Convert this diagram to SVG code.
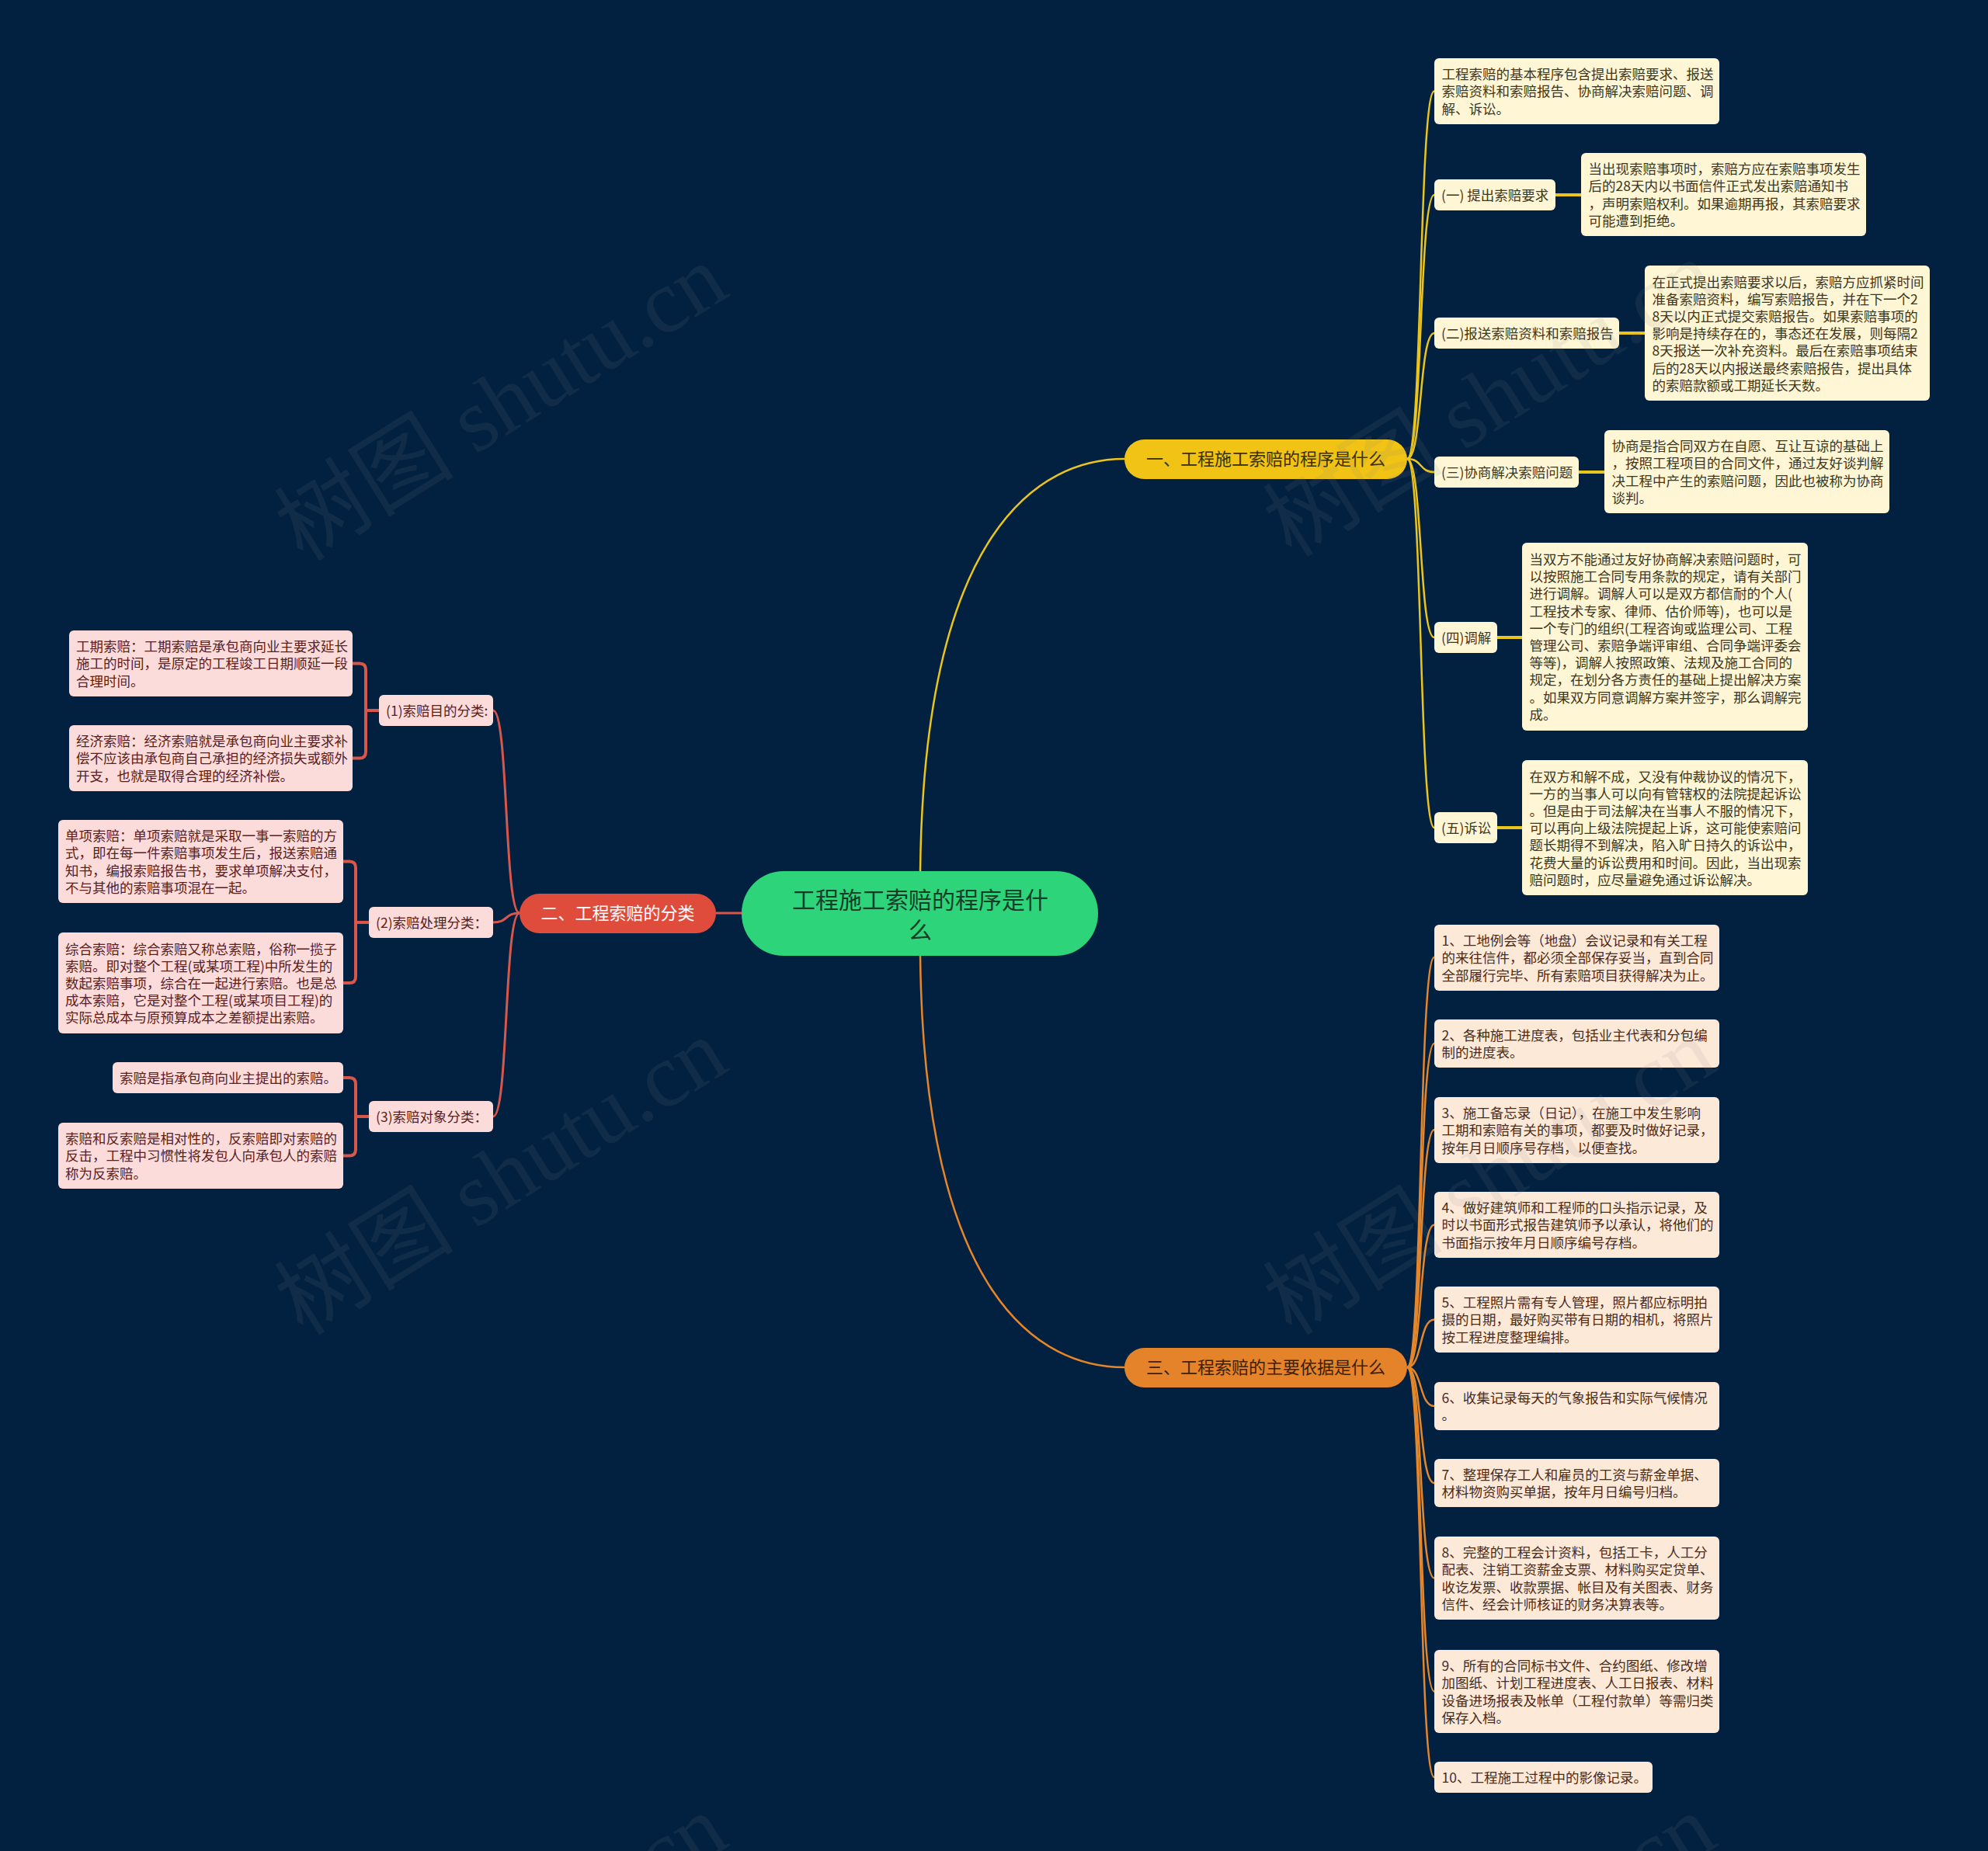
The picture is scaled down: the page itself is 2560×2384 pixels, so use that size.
<svg xmlns="http://www.w3.org/2000/svg" width="2560" height="2384" viewBox="0 0 2560 2384">
<defs>
<style>
.t{font-family:"Noto Sans CJK SC","Noto Sans",sans-serif}
.lf{font-size:17.5px}
.yl{fill:#FEF6D5}
.ol{fill:#FDE9D8}
.rl{fill:#FCDCDA}
.ytx{fill:#3d3620}
.otx{fill:#4a2c1a}
.rtx{fill:#5a2020}
.cy{fill:none;stroke:#EBC41C;stroke-width:2.5}
.co{fill:none;stroke:#E5862A;stroke-width:2.5}
.cr{fill:none;stroke:#D9574A;stroke-width:3}
.thick{stroke-width:4}
.wm{font-family:"Liberation Serif","Noto Sans CJK SC",serif;font-size:116px;fill:#8a8a8a;opacity:0.11}
</style>
</defs>
<rect x="0" y="0" width="2560" height="2384" fill="#022140"/>

<g id="connectors">
<path class="cy" d="M1185,1122 C1190,680 1340,591 1448,591"/>
<path class="cy" d="M1812,591 C1832,591 1827,117.5 1847,117.5"/>
<path class="cy" d="M1812,591 C1832,591 1827,251 1847,251"/>
<path class="cy" d="M1812,591 C1832,591 1827,429 1847,429"/>
<path class="cy" d="M1812,591 C1832,591 1827,608 1847,608"/>
<path class="cy" d="M1812,591 C1832,591 1827,821 1847,821"/>
<path class="cy" d="M1812,591 C1832,591 1827,1066 1847,1066"/>
<path class="cy thick" d="M2003,251 H2036"/>
<path class="cy thick" d="M2085,429 H2118"/>
<path class="cy thick" d="M2033,608 H2066"/>
<path class="cy thick" d="M1928,821 H1960"/>
<path class="cy thick" d="M1928,1066 H1960"/>

<path class="co" d="M1185,1231 C1190,1673 1340,1761 1448,1761"/>
<path class="co" d="M1812,1761 C1832,1761 1827,1233 1847,1233"/>
<path class="co" d="M1812,1761 C1832,1761 1827,1344 1847,1344"/>
<path class="co" d="M1812,1761 C1832,1761 1827,1455 1847,1455"/>
<path class="co" d="M1812,1761 C1832,1761 1827,1577.5 1847,1577.5"/>
<path class="co" d="M1812,1761 C1832,1761 1827,1699.5 1847,1699.5"/>
<path class="co" d="M1812,1761 C1832,1761 1827,1811 1847,1811"/>
<path class="co" d="M1812,1761 C1832,1761 1827,1910 1847,1910"/>
<path class="co" d="M1812,1761 C1832,1761 1827,2032.5 1847,2032.5"/>
<path class="co" d="M1812,1761 C1832,1761 1827,2178.5 1847,2178.5"/>
<path class="co" d="M1812,1761 C1832,1761 1827,2289 1847,2289"/>

<path class="cr" d="M955,1176 H922"/>
<path class="cr" d="M669,1176 C649,1176 655,915 635,915"/>
<path class="cr" d="M669,1176 C649,1176 655,1188 635,1188"/>
<path class="cr" d="M669,1176 C649,1176 655,1438 635,1438"/>
<path class="cr thick" d="M488,915 H471"/>
<path class="cr thick" d="M454,854.5 H463 Q471,854.5 471,862.5 V968.5 Q471,976.5 463,976.5 H454"/>
<path class="cr thick" d="M475,1188 H458"/>
<path class="cr thick" d="M442,1109.5 H450 Q458,1109.5 458,1117.5 V1258 Q458,1266 450,1266 H442"/>
<path class="cr thick" d="M475,1438 H458"/>
<path class="cr thick" d="M442,1388 H450 Q458,1388 458,1396 V1480.5 Q458,1488.5 450,1488.5 H442"/>
</g>

<g id="root">
<rect x="955" y="1122" width="459" height="109" rx="54" fill="#2ED47A"/>
<text class="t" x="1185" y="1170" font-size="30" fill="#163d25" text-anchor="middle"><tspan x="1185">工程施工索赔的程序是什</tspan><tspan x="1185" dy="39">么</tspan></text>
</g>

<g id="b1">
<rect x="1448" y="566" width="364" height="51" rx="25.5" fill="#F0C314"/>
<text class="t" x="1630" y="599.4" font-size="22" fill="#3a2f05" text-anchor="middle">一、工程施工索赔的程序是什么</text>
</g>
<g id="b2">
<rect x="669" y="1151" width="253" height="51" rx="25.5" fill="#E04C3B"/>
<text class="t" x="795.5" y="1184.4" font-size="22" fill="#ffffff" text-anchor="middle">二、工程索赔的分类</text>
</g>
<g id="b3">
<rect x="1448" y="1736" width="364" height="51" rx="25.5" fill="#E5832A"/>
<text class="t" x="1630" y="1769.4" font-size="22" fill="#3d1f05" text-anchor="middle">三、工程索赔的主要依据是什么</text>
</g>

<g id="y0">
<rect class="yl" x="1847" y="75" width="367" height="85" rx="6"/>
<text class="t lf ytx" x="1856.5" y="102.2"><tspan x="1856.5">工程索赔的基本程序包含提出索赔要求、报送</tspan><tspan x="1856.5" dy="22.2">索赔资料和索赔报告、协商解决索赔问题、调</tspan><tspan x="1856.5" dy="22.2">解、诉讼。</tspan></text>
</g>
<g id="y1">
<rect class="yl" x="1847" y="231" width="156" height="40" rx="6"/>
<text class="t lf ytx" x="1856" y="257.6">(一) 提出索赔要求</text>
</g>
<g id="y1d">
<rect class="yl" x="2036" y="197" width="367" height="107" rx="6"/>
<text class="t lf ytx" x="2045.5" y="224.2"><tspan x="2045.5">当出现索赔事项时，索赔方应在索赔事项发生</tspan><tspan x="2045.5" dy="22.2">后的28天内以书面信件正式发出索赔通知书</tspan><tspan x="2045.5" dy="22.2">，声明索赔权利。如果逾期再报，其索赔要求</tspan><tspan x="2045.5" dy="22.2">可能遭到拒绝。</tspan></text>
</g>
<g id="y2">
<rect class="yl" x="1847" y="409" width="238" height="40" rx="6"/>
<text class="t lf ytx" x="1856" y="435.6">(二)报送索赔资料和索赔报告</text>
</g>
<g id="y2d">
<rect class="yl" x="2118" y="342" width="367" height="174" rx="6"/>
<text class="t lf ytx" x="2127.5" y="369.5"><tspan x="2127.5">在正式提出索赔要求以后，索赔方应抓紧时间</tspan><tspan x="2127.5" dy="22.2">准备索赔资料，编写索赔报告，并在下一个2</tspan><tspan x="2127.5" dy="22.2">8天以内正式提交索赔报告。如果索赔事项的</tspan><tspan x="2127.5" dy="22.2">影响是持续存在的，事态还在发展，则每隔2</tspan><tspan x="2127.5" dy="22.2">8天报送一次补充资料。最后在索赔事项结束</tspan><tspan x="2127.5" dy="22.2">后的28天以内报送最终索赔报告，提出具体</tspan><tspan x="2127.5" dy="22.2">的索赔款额或工期延长天数。</tspan></text>
</g>
<g id="y3">
<rect class="yl" x="1847" y="588" width="186" height="40" rx="6"/>
<text class="t lf ytx" x="1856" y="614.6">(三)协商解决索赔问题</text>
</g>
<g id="y3d">
<rect class="yl" x="2066" y="554" width="367" height="107" rx="6"/>
<text class="t lf ytx" x="2075.5" y="581.2"><tspan x="2075.5">协商是指合同双方在自愿、互让互谅的基础上</tspan><tspan x="2075.5" dy="22.2">，按照工程项目的合同文件，通过友好谈判解</tspan><tspan x="2075.5" dy="22.2">决工程中产生的索赔问题，因此也被称为协商</tspan><tspan x="2075.5" dy="22.2">谈判。</tspan></text>
</g>
<g id="y4">
<rect class="yl" x="1847" y="801" width="81" height="40" rx="6"/>
<text class="t lf ytx" x="1856" y="827.6">(四)调解</text>
</g>
<g id="y4d">
<rect class="yl" x="1960" y="699" width="368" height="242" rx="6"/>
<text class="t lf ytx" x="1969.5" y="727"><tspan x="1969.5">当双方不能通过友好协商解决索赔问题时，可</tspan><tspan x="1969.5" dy="22.2">以按照施工合同专用条款的规定，请有关部门</tspan><tspan x="1969.5" dy="22.2">进行调解。调解人可以是双方都信耐的个人(</tspan><tspan x="1969.5" dy="22.2">工程技术专家、律师、估价师等)，也可以是</tspan><tspan x="1969.5" dy="22.2">一个专门的组织(工程咨询或监理公司、工程</tspan><tspan x="1969.5" dy="22.2">管理公司、索赔争端评审组、合同争端评委会</tspan><tspan x="1969.5" dy="22.2">等等)，调解人按照政策、法规及施工合同的</tspan><tspan x="1969.5" dy="22.2">规定，在划分各方责任的基础上提出解决方案</tspan><tspan x="1969.5" dy="22.2">。如果双方同意调解方案并签字，那么调解完</tspan><tspan x="1969.5" dy="22.2">成。</tspan></text>
</g>
<g id="y5">
<rect class="yl" x="1847" y="1046" width="81" height="40" rx="6"/>
<text class="t lf ytx" x="1856" y="1072.6">(五)诉讼</text>
</g>
<g id="y5d">
<rect class="yl" x="1960" y="979" width="368" height="174" rx="6"/>
<text class="t lf ytx" x="1969.5" y="1006.5"><tspan x="1969.5">在双方和解不成，又没有仲裁协议的情况下，</tspan><tspan x="1969.5" dy="22.2">一方的当事人可以向有管辖权的法院提起诉讼</tspan><tspan x="1969.5" dy="22.2">。但是由于司法解决在当事人不服的情况下，</tspan><tspan x="1969.5" dy="22.2">可以再向上级法院提起上诉，这可能使索赔问</tspan><tspan x="1969.5" dy="22.2">题长期得不到解决，陷入旷日持久的诉讼中，</tspan><tspan x="1969.5" dy="22.2">花费大量的诉讼费用和时间。因此，当出现索</tspan><tspan x="1969.5" dy="22.2">赔问题时，应尽量避免通过诉讼解决。</tspan></text>
</g>

<g id="o1">
<rect class="ol" x="1847" y="1191" width="367" height="85" rx="6"/>
<text class="t lf otx" x="1856.5" y="1218.2"><tspan x="1856.5">1、工地例会等（地盘）会议记录和有关工程</tspan><tspan x="1856.5" dy="22.2">的来往信件，都必须全部保存妥当，直到合同</tspan><tspan x="1856.5" dy="22.2">全部履行完毕、所有索赔项目获得解决为止。</tspan></text>
</g>
<g id="o2">
<rect class="ol" x="1847" y="1313" width="367" height="62" rx="6"/>
<text class="t lf otx" x="1856.5" y="1340.2"><tspan x="1856.5">2、各种施工进度表，包括业主代表和分包编</tspan><tspan x="1856.5" dy="22.2">制的进度表。</tspan></text>
</g>
<g id="o3">
<rect class="ol" x="1847" y="1413" width="367" height="85" rx="6"/>
<text class="t lf otx" x="1856.5" y="1440.2"><tspan x="1856.5">3、施工备忘录（日记），在施工中发生影响</tspan><tspan x="1856.5" dy="22.2">工期和索赔有关的事项，都要及时做好记录，</tspan><tspan x="1856.5" dy="22.2">按年月日顺序号存档，以便查找。</tspan></text>
</g>
<g id="o4">
<rect class="ol" x="1847" y="1535" width="367" height="85" rx="6"/>
<text class="t lf otx" x="1856.5" y="1562.2"><tspan x="1856.5">4、做好建筑师和工程师的口头指示记录，及</tspan><tspan x="1856.5" dy="22.2">时以书面形式报告建筑师予以承认，将他们的</tspan><tspan x="1856.5" dy="22.2">书面指示按年月日顺序编号存档。</tspan></text>
</g>
<g id="o5">
<rect class="ol" x="1847" y="1657" width="367" height="85" rx="6"/>
<text class="t lf otx" x="1856.5" y="1684.2"><tspan x="1856.5">5、工程照片需有专人管理，照片都应标明拍</tspan><tspan x="1856.5" dy="22.2">摄的日期，最好购买带有日期的相机，将照片</tspan><tspan x="1856.5" dy="22.2">按工程进度整理编排。</tspan></text>
</g>
<g id="o6">
<rect class="ol" x="1847" y="1780" width="367" height="62" rx="6"/>
<text class="t lf otx" x="1856.5" y="1807.2"><tspan x="1856.5">6、收集记录每天的气象报告和实际气候情况</tspan><tspan x="1856.5" dy="22.2">。</tspan></text>
</g>
<g id="o7">
<rect class="ol" x="1847" y="1879" width="367" height="62" rx="6"/>
<text class="t lf otx" x="1856.5" y="1906.2"><tspan x="1856.5">7、整理保存工人和雇员的工资与薪金单据、</tspan><tspan x="1856.5" dy="22.2">材料物资购买单据，按年月日编号归档。</tspan></text>
</g>
<g id="o8">
<rect class="ol" x="1847" y="1979" width="367" height="107" rx="6"/>
<text class="t lf otx" x="1856.5" y="2006.2"><tspan x="1856.5">8、完整的工程会计资料，包括工卡，人工分</tspan><tspan x="1856.5" dy="22.2">配表、注销工资薪金支票、材料购买定贷单、</tspan><tspan x="1856.5" dy="22.2">收讫发票、收款票据、帐目及有关图表、财务</tspan><tspan x="1856.5" dy="22.2">信件、经会计师核证的财务决算表等。</tspan></text>
</g>
<g id="o9">
<rect class="ol" x="1847" y="2125" width="367" height="107" rx="6"/>
<text class="t lf otx" x="1856.5" y="2152.2"><tspan x="1856.5">9、所有的合同标书文件、合约图纸、修改增</tspan><tspan x="1856.5" dy="22.2">加图纸、计划工程进度表、人工日报表、材料</tspan><tspan x="1856.5" dy="22.2">设备进场报表及帐单（工程付款单）等需归类</tspan><tspan x="1856.5" dy="22.2">保存入档。</tspan></text>
</g>
<g id="o10">
<rect class="ol" x="1847" y="2269" width="281" height="40" rx="6"/>
<text class="t lf otx" x="1856.5" y="2295.6">10、工程施工过程中的影像记录。</text>
</g>

<g id="r1">
<rect class="rl" x="488" y="895" width="147" height="40" rx="6"/>
<text class="t lf rtx" x="497" y="921.6">(1)索赔目的分类:</text>
</g>
<g id="r1a">
<rect class="rl" x="89" y="812" width="365" height="85" rx="6"/>
<text class="t lf rtx" x="98" y="839.2"><tspan x="98">工期索赔：工期索赔是承包商向业主要求延长</tspan><tspan x="98" dy="22.2">施工的时间，是原定的工程竣工日期顺延一段</tspan><tspan x="98" dy="22.2">合理时间。</tspan></text>
</g>
<g id="r1b">
<rect class="rl" x="89" y="934" width="365" height="85" rx="6"/>
<text class="t lf rtx" x="98" y="961.2"><tspan x="98">经济索赔：经济索赔就是承包商向业主要求补</tspan><tspan x="98" dy="22.2">偿不应该由承包商自己承担的经济损失或额外</tspan><tspan x="98" dy="22.2">开支，也就是取得合理的经济补偿。</tspan></text>
</g>
<g id="r2">
<rect class="rl" x="475" y="1168" width="160" height="40" rx="6"/>
<text class="t lf rtx" x="484" y="1194.6">(2)索赔处理分类：</text>
</g>
<g id="r2a">
<rect class="rl" x="75" y="1056" width="367" height="107" rx="6"/>
<text class="t lf rtx" x="84" y="1083.2"><tspan x="84">单项索赔：单项索赔就是采取一事一索赔的方</tspan><tspan x="84" dy="22.2">式，即在每一件索赔事项发生后，报送索赔通</tspan><tspan x="84" dy="22.2">知书，编报索赔报告书，要求单项解决支付，</tspan><tspan x="84" dy="22.2">不与其他的索赔事项混在一起。</tspan></text>
</g>
<g id="r2b">
<rect class="rl" x="75" y="1201" width="367" height="130" rx="6"/>
<text class="t lf rtx" x="84" y="1228.5"><tspan x="84">综合索赔：综合索赔又称总索赔，俗称一揽子</tspan><tspan x="84" dy="22.2">索赔。即对整个工程(或某项工程)中所发生的</tspan><tspan x="84" dy="22.2">数起索赔事项，综合在一起进行索赔。也是总</tspan><tspan x="84" dy="22.2">成本索赔，它是对整个工程(或某项目工程)的</tspan><tspan x="84" dy="22.2">实际总成本与原预算成本之差额提出索赔。</tspan></text>
</g>
<g id="r3">
<rect class="rl" x="475" y="1418" width="160" height="40" rx="6"/>
<text class="t lf rtx" x="484" y="1444.6">(3)索赔对象分类：</text>
</g>
<g id="r3a">
<rect class="rl" x="145" y="1368" width="297" height="40" rx="6"/>
<text class="t lf rtx" x="154" y="1394.6">索赔是指承包商向业主提出的索赔。</text>
</g>
<g id="r3b">
<rect class="rl" x="75" y="1446" width="367" height="85" rx="6"/>
<text class="t lf rtx" x="84" y="1473.2"><tspan x="84">索赔和反索赔是相对性的，反索赔即对索赔的</tspan><tspan x="84" dy="22.2">反击，工程中习惯性将发包人向承包人的索赔</tspan><tspan x="84" dy="22.2">称为反索赔。</tspan></text>
</g>

<g id="watermarks">
<text class="wm" x="645" y="558" text-anchor="middle" transform="rotate(-32 645 518)">树图 shutu.cn</text>
<text class="wm" x="1918" y="553" text-anchor="middle" transform="rotate(-32 1918 513)">树图 shutu.cn</text>
<text class="wm" x="645" y="1555" text-anchor="middle" transform="rotate(-32 645 1515)">树图 shutu.cn</text>
<text class="wm" x="1918" y="1555" text-anchor="middle" transform="rotate(-32 1918 1515)">树图 shutu.cn</text>
<text class="wm" x="645" y="2554" text-anchor="middle" transform="rotate(-32 645 2514)">树图 shutu.cn</text>
<text class="wm" x="1918" y="2554" text-anchor="middle" transform="rotate(-32 1918 2514)">树图 shutu.cn</text>
</g>
</svg>
